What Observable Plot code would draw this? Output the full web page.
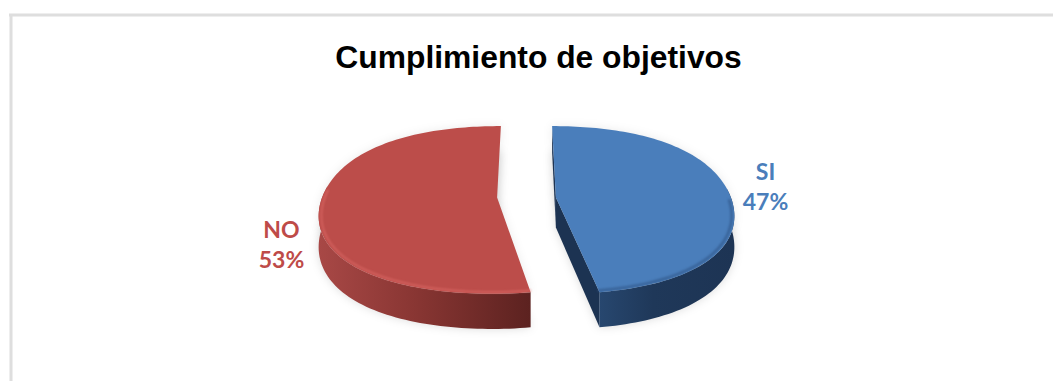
<!DOCTYPE html>
<html lang="es">
<head>
<meta charset="utf-8">
<title>Cumplimiento de objetivos</title>
<script src="https://cdn.jsdelivr.net/npm/d3@7"></script>
<script src="https://cdn.jsdelivr.net/npm/@observablehq/plot@0.6"></script>
<style>
  html, body { margin: 0; padding: 0; background: #fff; }
  svg { display: block; }
</style>
</head>
<body>
<div id="chart"></div>
<script>
// Chart values
const chartTitle = "Cumplimiento de objetivos";
const categories = ["SI", "NO"];
const shares = [47, 53];

// Page size and the perspective used to tilt the pie
const W = 1053, H = 381;
const view = {cx: 526, cy: 197, rx: 175, ry: 82, tilt: 0.148, depth: 30, explode: 0.168, round: 0.03};

// Project a point of the pie plane (unit radius) onto the page, optionally down to the base
function project(px, py, base = false) {
  const s = 1 / (1 + view.tilt * py);
  return {
    x: view.cx + px * view.rx * s,
    y: view.cy - py * view.ry * s + (base ? view.depth * s : 0)
  };
}

// A point on a slice: angle in degrees, clockwise from twelve o'clock
function onSlice(dir, deg, r = 1, base = false) {
  const a = (deg * Math.PI) / 180;
  const rr = r * (1 + view.round * Math.sin(2 * a) ** 2);
  return project(dir * view.explode + rr * Math.sin(a), rr * Math.cos(a), base);
}
function arc(dir, from, to, r = 1, base = false) {
  const n = Math.max(2, Math.ceil(Math.abs(to - from) / 1.5));
  return d3.range(n + 1).map((i) => onSlice(dir, from + ((to - from) * i) / n, r, base));
}

const boundary = (shares[0] / d3.sum(shares)) * 360;

// Slice outlines, walls and rims, all derived from the shares
const siTop = [onSlice(1, 0, 0), ...arc(1, 0, boundary)];
const noTop = [onSlice(-1, 0, 0), ...arc(-1, boundary, 360)];
const siWall = [...arc(1, 84, boundary), ...arc(1, boundary, 84, 1, true)];
const noWall = [...arc(-1, boundary, 278), ...arc(-1, 278, boundary, 1, true)];
const siCut = [onSlice(1, 0, 0), onSlice(1, boundary), onSlice(1, boundary, 1, true), onSlice(1, 0, 0, true)];
const siBack = [onSlice(1, 0), onSlice(1, 0, 0), onSlice(1, 0, 0, true), onSlice(1, 0, 1, true)];
const siRim = arc(1, 92, boundary, 0.985);
const noRim = arc(-1, boundary, 275, 0.985);
const siBase = [onSlice(1, 0, 0, true), ...arc(1, 0, boundary, 1, true)];
const noBase = [onSlice(-1, 0, 0, true), ...arc(-1, boundary, 360, 1, true)];

const labels = [
  {text: `${categories[0]}\n${shares[0]}%`, x: 765, y: 185, color: "#4a7ebb"},
  {text: `${categories[1]}\n${shares[1]}%`, x: 281, y: 243, color: "#be4b48"}
];

// Wall shading
function gradients() {
  const defs = d3.create("svg:defs");
  const add = (id, stops) => {
    const g = defs.append("linearGradient").attr("id", id);
    stops.forEach(([o, c]) => g.append("stop").attr("offset", o).attr("stop-color", c));
  };
  add("wallNo", [[0, "#a84846"], [0.45, "#893633"], [1, "#5c2220"]]);
  add("wallSi", [[0, "#27476f"], [0.4, "#1f3859"], [1, "#1d3454"]]);
  return defs.node();
}

const pts = {x: "x", y: "y"};
const chart = Plot.plot({
  width: W,
  height: H,
  margin: 0,
  style: {background: "#fff"},
  x: {domain: [0, W], range: [0, W], axis: null},
  y: {domain: [0, H], range: [0, H], axis: null},
  marks: [
    gradients,
    // Outer frame: only the top and left edges fall on the page
    Plot.ruleX([10.5], {y1: 14.5, y2: H, stroke: "#dedede", strokeWidth: 3}),
    Plot.ruleY([14.5], {x1: 9, x2: W, stroke: "#dedede", strokeWidth: 3}),
    // Soft drop shadows
    Plot.line(noBase, {...pts, fill: "#000", fillOpacity: 0.14, imageFilter: "blur(5px)"}),
    Plot.line(siBase, {...pts, fill: "#000", fillOpacity: 0.14, imageFilter: "blur(5px)"}),
    Plot.line(siTop, {...pts, fill: "#000", fillOpacity: 0.08, imageFilter: "blur(5px)"}),
    Plot.line(noTop, {...pts, fill: "#000", fillOpacity: 0.08, imageFilter: "blur(5px)"}),
    // Side walls
    Plot.line(noWall, {...pts, fill: "url(#wallNo)"}),
    Plot.line(siBack, {...pts, fill: "#1d3454"}),
    Plot.line(siCut, {...pts, fill: "#1c3352"}),
    Plot.line(siWall, {...pts, fill: "url(#wallSi)"}),
    // Top faces
    Plot.line(noTop, {...pts, fill: "#bc4d4a"}),
    Plot.line(siTop, {...pts, fill: "#4a7ebb"}),
    // Bevel along the front of each top face
    Plot.line(noRim, {...pts, stroke: "#dd6a66", strokeOpacity: 0.7, strokeWidth: 2, imageFilter: "blur(1.2px)"}),
    Plot.line(siRim, {...pts, stroke: "#2f5688", strokeOpacity: 0.7, strokeWidth: 2.5, imageFilter: "blur(1.2px)"}),
    // Text
    Plot.text([chartTitle], {
      x: () => 538, y: () => 57, text: (d) => d,
      fontFamily: "Liberation Sans", fontWeight: 700, fontSize: 31.8, fill: "#000"
    }),
    Plot.text(labels, {
      x: "x", y: "y", text: "text", fill: (d) => d.color,
      lineHeight: 1.3, fontFamily: "Lato", fontWeight: 700, fontSize: 23
    })
  ]
});
document.getElementById("chart").append(chart);
</script>
</body>
</html>
